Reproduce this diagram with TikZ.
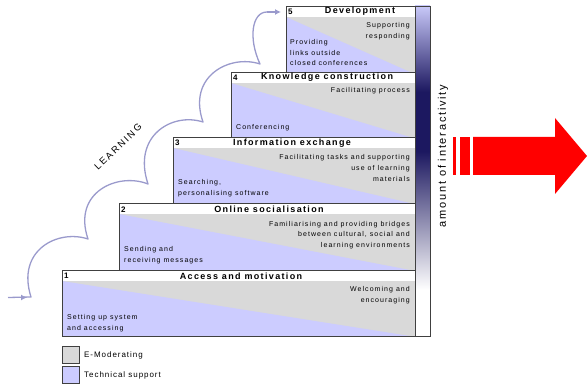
\documentclass[tikz,border=0pt]{standalone}
\usepackage{fontspec}
\setmainfont{Liberation Sans}
\newfontfamily\hdfont[LetterSpace=15]{Liberation Sans}
\newfontfamily\bdfont[LetterSpace=15]{Liberation Sans}
\newfontfamily\lgfont[LetterSpace=12]{Liberation Sans}
\newfontfamily\axfont[LetterSpace=16]{Liberation Sans}
\newfontfamily\lnfont[LetterSpace=20]{Liberation Sans}
\usetikzlibrary{arrows.meta}
\definecolor{emod}{HTML}{D9D9D9}
\definecolor{tech}{HTML}{CCCCFF}
\definecolor{edgec}{HTML}{404040}
\definecolor{learnc}{HTML}{9A9ACC}
\definecolor{navyc}{HTML}{1C1860}
\definecolor{lavc}{HTML}{C8C8F8}
\pgfdeclareverticalshading{interact}{100bp}{color(0bp)=(white); color(32bp)=(white); color(53bp)=(navyc); color(62bp)=(navyc); color(75bp)=(lavc); color(100bp)=(lavc)}
\tikzset{
  hdtext/.style={font=\hdfont\bfseries\fontsize{9}{10}\selectfont, inner sep=0pt},
  numtext/.style={font=\bfseries\fontsize{8}{10}\selectfont, inner sep=0pt, anchor=west},
  rtext/.style={font=\bdfont\fontsize{7}{10.8}\selectfont, inner sep=0pt, align=right, anchor=east},
  ltext/.style={font=\bdfont\fontsize{7}{10.8}\selectfont, inner sep=0pt, align=left, anchor=west},
  legbox/.style={draw=edgec, line width=0.8pt, minimum width=17pt, minimum height=17pt, inner sep=0pt, anchor=north west},
  legtext/.style={font=\lgfont\fontsize{8}{10}\selectfont, inner sep=0pt, anchor=west},
  learnline/.style={draw=learnc, line width=1.3pt, line join=round},
  stepedge/.style={draw=edgec, line width=0.9pt},
}
\begin{document}
\begin{tikzpicture}[x=1pt,y=-1pt]
\useasboundingbox (0,0) rectangle (587,385);
% steps
\foreach \L/\T/\B in {62/270/336, 119/203/270, 173/137/203, 231/72/137, 286/6/72}{
  \fill[emod] (\L,{\T+11}) rectangle (415,\B);
  \fill[tech] (\L,{\T+11}) -- (\L,\B) -- (410,\B) -- cycle;
  \fill[white] (\L,\T) rectangle (415,{\T+11});
  \draw[stepedge] (\L,\T) rectangle (415,\B);
}
% headers
\node[numtext] (n1) at (64,276) {1};
\node[hdtext] (h1) at (241,276) {Access and motivation};
\node[numtext] (n2) at (121,209.5) {2};
\node[hdtext] (h2) at (269,209.5) {Online socialisation};
\node[numtext] (n3) at (175,143) {3};
\node[hdtext] (h3) at (292,143) {Information exchange};
\node[numtext] (n4) at (233,77.5) {4};
\node[hdtext] (h4) at (327,77.5) {Knowledge construction};
\node[numtext] (n5) at (288,11.5) {5};
\node[hdtext] (h5) at (360,11.5) {Development};
% body texts
\node[rtext] (r5) at (410,31) {Supporting\\responding};
\node[ltext] (l5) at (290,52.5) {Providing\\links outside\\closed conferences};
\node[rtext] (r4) at (410,91) {Facilitating process};
\node[ltext] (l4) at (236,128) {Conferencing};
\node[rtext] (r3) at (410,168) {Facilitating tasks and supporting\\use of learning\\materials};
\node[ltext] (l3) at (178,188.5) {Searching,\\personalising software};
\node[rtext] (r2) at (410,235) {Familiarising and providing bridges\\between cultural, social and\\learning environments};
\node[ltext] (l2) at (124,255.5) {Sending and\\receiving messages};
\node[rtext] (r1) at (410,295) {Welcoming and\\encouraging};
\node[ltext] (l1) at (67,323) {Setting up system\\and accessing};
% interactivity bar
\shade[shading=interact] (415,6) rectangle (430,336);
\draw[stepedge] (415,6) rectangle (430,336);
\node[font=\axfont\fontsize{11}{12}\selectfont, rotate=90, inner sep=0pt] (amt) at (443,156) {amount of interactivity};
% red arrow
\fill[red] (453,137) rectangle (456,175);
\fill[red] (460,137) rectangle (470,175);
\fill[red] (473,137) -- (555,137) -- (555,118) -- (587,156) -- (555,194) -- (555,175) -- (473,175) -- cycle;
% learning curve
\coordinate (s) at (8,297.5);
\coordinate (a1) at (27,297.5);
\coordinate (c0) at (31,297);
\coordinate (c1) at (88,239);
\coordinate (c2) at (148,184);
\coordinate (c3) at (203,122);
\coordinate (c4) at (260,64);
\coordinate (e5) at (267,12);
\coordinate (tip) at (281,12);
\draw[learnline] (s) -- (c0)
  .. controls (16,250) and (58,229) .. (c1)
  .. controls (72,192) and (118,172) .. (c2)
  .. controls (132,136) and (172,112) .. (c3)
  .. controls (187,76) and (230,54) .. (c4)
  .. controls (248,38) and (252,12) .. (e5);
\draw[learnline, -{Latex[length=6pt,width=6pt]}] (s) -- (a1);
\draw[learnline, -{Latex[length=6pt,width=6pt]}] (e5) -- (tip);
\node[font=\lnfont\fontsize{9.5}{11}\selectfont, rotate=44, inner sep=0pt] (lrn) at (118,147) {LEARNING};
% legend
\node[legbox, fill=emod] (g1) at (62,346) {};
\node[legtext] (t1) at (84,355) {E-Moderating};
\node[legbox, fill=tech] (g2) at (62,366) {};
\node[legtext] (t2) at (84,375) {Technical support};
\end{tikzpicture}
\end{document}
